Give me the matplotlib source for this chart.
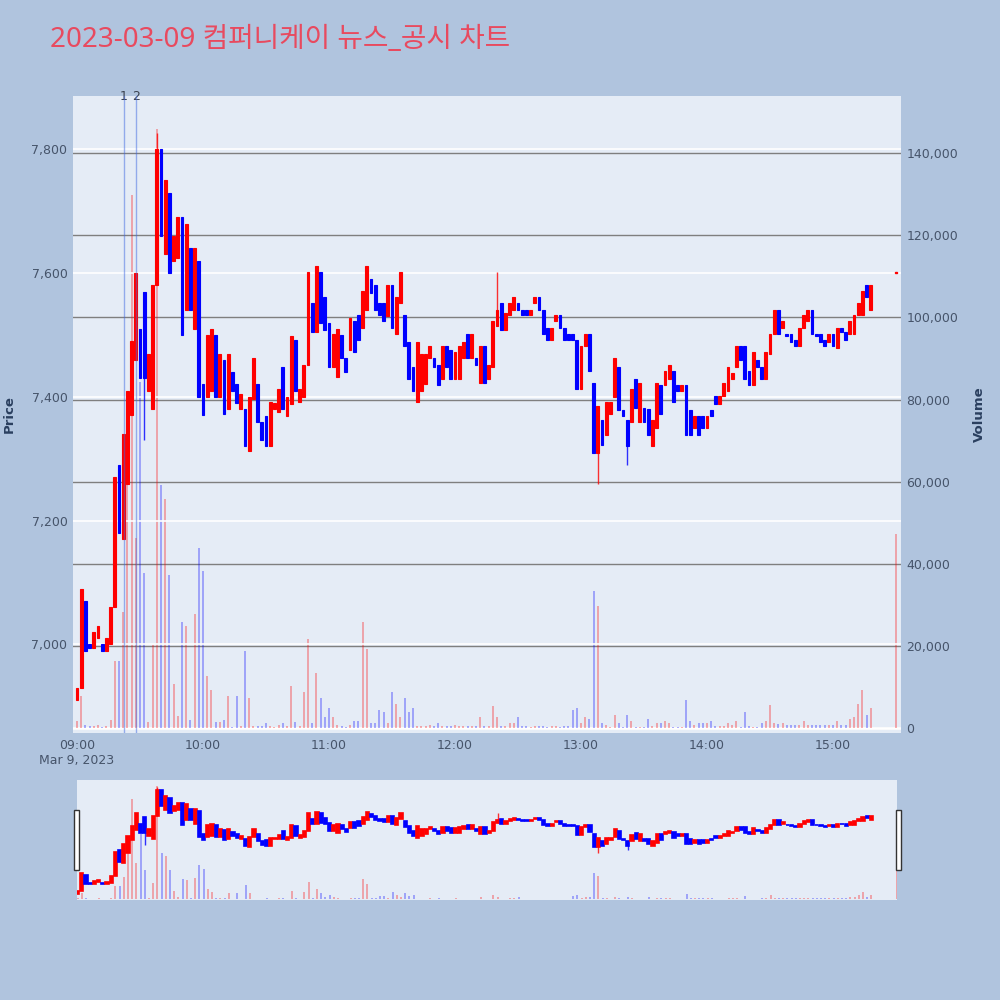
import matplotlib.pyplot as plt
import matplotlib.transforms as mtransforms
from matplotlib.patches import Rectangle
import numpy as np

title = "2023-03-09 컴퍼니케이 뉴스_공시 차트"

# 2-minute candles from 09:00 (minutes after the open)
minutes = list(range(0, 380, 2))
opens = [
    6910, 6930, 7070, 7000, 6995, 7010, 7000, 6990, 7000, 7060,
    7290, 7170, 7260, 7370, 7460, 7510, 7570, 7410, 7380, 7580,
    7800, 7630, 7730, 7620, 7625, 7690, 7540, 7640, 7510, 7620,
    7420, 7400, 7410, 7500, 7400, 7460, 7380, 7440, 7420, 7380,
    7380, 7313, 7396, 7420, 7360, 7369, 7320, 7380, 7376, 7449,
    7369, 7389, 7492, 7392, 7400, 7452, 7551, 7505, 7601, 7561,
    7520, 7449, 7432, 7500, 7462, 7475, 7522, 7532, 7512, 7541,
    7591, 7581, 7551, 7551, 7530, 7581, 7502, 7551, 7532, 7488,
    7449, 7392, 7409, 7420, 7462, 7462, 7452, 7429, 7482, 7475,
    7429, 7429, 7462, 7502, 7462, 7462, 7422, 7482, 7429, 7449,
    7515, 7551, 7508, 7532, 7541, 7551, 7541, 7541, 7532, 7551,
    7561, 7541, 7512, 7492, 7522, 7532, 7512, 7502, 7502, 7492,
    7412, 7482, 7502, 7422, 7310, 7363, 7339, 7372, 7399, 7449,
    7379, 7363, 7359, 7429, 7359, 7382, 7380, 7320, 7349, 7419,
    7419, 7429, 7442, 7419, 7409, 7419, 7379, 7349, 7369, 7369,
    7349, 7379, 7402, 7389, 7402, 7409, 7429, 7449, 7482, 7482,
    7442, 7419, 7459, 7449, 7429, 7469, 7502, 7541, 7512, 7502,
    7502, 7492, 7482, 7512, 7522, 7541, 7502, 7502, 7492, 7488,
    7502, 7479, 7512, 7505, 7502, 7502, 7532, 7532, 7581, 7541,
]
closes = [
    6930, 7090, 6990, 6995, 7020, 7030, 6990, 7010, 7060, 7270,
    7180, 7340, 7410, 7490, 7600, 7430, 7430, 7470, 7580, 7800,
    7660, 7750, 7600, 7660, 7690, 7500, 7680, 7540, 7640, 7400,
    7370, 7500, 7510, 7400, 7470, 7373, 7470, 7410, 7390, 7405,
    7320, 7400, 7462, 7359, 7330, 7320, 7392, 7390, 7412, 7380,
    7400, 7498, 7410, 7412, 7452, 7601, 7505, 7611, 7520, 7508,
    7449, 7502, 7510, 7462, 7440, 7528, 7472, 7492, 7571, 7611,
    7568, 7541, 7532, 7522, 7581, 7512, 7561, 7601, 7482, 7429,
    7409, 7488, 7469, 7470, 7482, 7449, 7419, 7482, 7449, 7429,
    7472, 7482, 7488, 7462, 7502, 7452, 7482, 7422, 7452, 7522,
    7541, 7508, 7535, 7551, 7561, 7541, 7532, 7532, 7541, 7561,
    7541, 7502, 7492, 7512, 7532, 7512, 7492, 7492, 7492, 7412,
    7482, 7502, 7442, 7310, 7385, 7323, 7392, 7392, 7462, 7379,
    7369, 7320, 7412, 7382, 7422, 7360, 7339, 7363, 7422, 7372,
    7442, 7452, 7392, 7409, 7419, 7339, 7339, 7369, 7339, 7349,
    7369, 7369, 7389, 7402, 7422, 7449, 7439, 7482, 7459, 7429,
    7419, 7472, 7449, 7429, 7472, 7502, 7541, 7502, 7522, 7498,
    7488, 7482, 7512, 7532, 7541, 7502, 7498, 7488, 7482, 7502,
    7482, 7512, 7505, 7492, 7522, 7532, 7551, 7571, 7561, 7581,
]
volumes = [
    1800, 7800, 800, 500, 600, 800, 300, 500, 2000, 16300,
    16300, 28300, 59300, 129800, 46300, 84300, 37800, 1500, 20300, 145800,
    59300, 55800, 37300, 10800, 3000, 25800, 24800, 2000, 27800, 43800,
    38300, 12800, 9300, 1500, 1500, 2000, 7800, 300, 7800, 600,
    18800, 7300, 600, 400, 600, 1300, 600, 300, 800, 1300,
    500, 10300, 1500, 400, 8800, 21800, 1300, 13300, 7300, 2800,
    4800, 2800, 800, 500, 300, 800, 1800, 1800, 25800, 19300,
    1300, 1300, 4300, 3800, 1300, 8800, 5800, 2800, 7300, 3800,
    4800, 600, 500, 400, 800, 600, 1300, 500, 400, 600,
    800, 500, 400, 600, 500, 400, 2800, 500, 500, 5300,
    2800, 500, 400, 1300, 1300, 2800, 400, 500, 300, 600,
    400, 500, 300, 400, 600, 300, 400, 500, 4300, 4800,
    1300, 2800, 2300, 33300, 29800, 1300, 800, 300, 3300, 1300,
    300, 3300, 1800, 300, 300, 300, 2300, 500, 1300, 1300,
    1800, 1300, 300, 300, 300, 6800, 1800, 800, 1300, 1300,
    1300, 1800, 500, 500, 500, 1300, 800, 1800, 300, 3800,
    500, 300, 300, 1300, 1800, 5500, 1300, 1000, 1300, 800,
    800, 800, 800, 1800, 800, 800, 800, 800, 800, 800,
    800, 1800, 800, 800, 2300, 2800, 5800, 9300, 3300, 4800,
]

# longer wicks
wick_min = [32, 38, 200, 248, 262]
wick_low = [7330, 7580, 7515, 7260, 7290]
wick_high = [7570, 7826, 7601, 7385, 7363]

# closing auction at 15:30
auction_min = 390
auction_price = 7600
auction_volume = 47300

news_min = [22.4, 28.1]
news_labels = ["1", "2"]

hour_ticks = [0, 60, 120, 180, 240, 300, 360]
hour_labels = ["09:00\nMar 9, 2023", "10:00", "11:00", "12:00", "13:00", "14:00", "15:00"]
price_ticks = [7000, 7200, 7400, 7600, 7800]
volume_ticks = [0, 20000, 40000, 60000, 80000, 100000, 120000, 140000]

UP = "#FF0000"
DOWN = "#0000FF"
TEXT = "#46546a"

o = np.array(opens)
c = np.array(closes)
cols = [UP if b >= a else DOWN for a, b in zip(opens, closes)]
wick_cols = [cols[minutes.index(t)] for t in wick_min]


def draw(axv, axp, body_w, lw):
    axv.bar(minutes, volumes, width=0.9, color=cols, alpha=0.3, linewidth=0)
    axv.bar([auction_min], [auction_volume], width=0.9, color=UP, alpha=0.3, linewidth=0)
    axp.vlines(wick_min, wick_low, wick_high, colors=wick_cols, linewidth=1, alpha=0.8)
    axp.bar(minutes, c - o, bottom=o, width=body_w, color=cols, edgecolor=cols,
            linewidth=lw)
    axp.bar([auction_min], [1], bottom=[auction_price], width=0.6, color=UP,
            edgecolor=UP, linewidth=1)


fig = plt.figure(figsize=(10, 10), dpi=100, facecolor="#B0C4DE")

axv = fig.add_axes([0.073, 0.267, 0.828, 0.637])
axp = axv.twinx()
axv.set_facecolor("#E5ECF6")
for a in (axv, axp):
    for s in a.spines.values():
        s.set_visible(False)
    a.set_axisbelow(True)

draw(axv, axp, 1.3, 0.8)

axv.set_xlim(-1.9, 392.4)
axv.set_ylim(-1200, 153900)
axp.set_ylim(6857, 7886)

axv.yaxis.tick_right()
axv.yaxis.set_label_position("right")
axp.yaxis.tick_left()
axp.yaxis.set_label_position("left")

axv.set_yticks(volume_ticks)
axv.set_yticklabels([f"{v:,}" for v in volume_ticks])
axp.set_yticks(price_ticks)
axp.set_yticklabels([f"{v:,}" for v in price_ticks])
axv.set_xticks(hour_ticks)
axv.set_xticklabels(hour_labels)

axv.grid(axis="y", color="#7f7f7f", linewidth=1)
axp.grid(axis="y", color="white", linewidth=1.2)
axv.axhline(0, color="white", linewidth=2, zorder=0.6)

for a in (axv, axp):
    a.tick_params(length=0, labelsize=9, colors=TEXT, pad=4)

axp.set_ylabel("Price", fontsize=9.5, fontweight="bold", color="#2a3f5f")
axp.yaxis.set_label_coords(-0.069, 0.5)
axv.set_ylabel("Volume", fontsize=9.5, fontweight="bold", color="#2a3f5f")
axv.yaxis.set_label_coords(1.087, 0.5)

trans = mtransforms.blended_transform_factory(axv.transData, axv.transAxes)
for t, lab in zip(news_min, news_labels):
    axp.axvline(t, color="royalblue", alpha=0.5, linewidth=1)
    axv.text(t, 1.0, lab, transform=trans, ha="center", va="center",
             fontsize=9, color="#3a4250")

fig.text(0.05, 0.96, title, fontsize=20, color="#E84A5F", va="center", ha="left",
         family=["Noto Sans", "Noto Sans CJK KR", "DejaVu Sans"])

# range slider
sv = fig.add_axes([0.077, 0.100, 0.820, 0.120])
sp = sv.twinx()
sv.set_facecolor("#E5ECF6")
draw(sv, sp, 1.5, 1.2)
sv.set_xlim(-0.3, 390.2)
sv.set_ylim(-1200, 153900)
sp.set_ylim(6857, 7886)
for a in (sv, sp):
    a.set_xticks([])
    a.set_yticks([])
    for s in a.spines.values():
        s.set_visible(False)

for x0 in (0.074, 0.896):
    fig.patches.append(Rectangle((x0, 0.130), 0.0045, 0.060, transform=fig.transFigure,
                                 facecolor="white", edgecolor="#333333", linewidth=1))

fig.savefig("out.png", dpi=100, facecolor=fig.get_facecolor())
